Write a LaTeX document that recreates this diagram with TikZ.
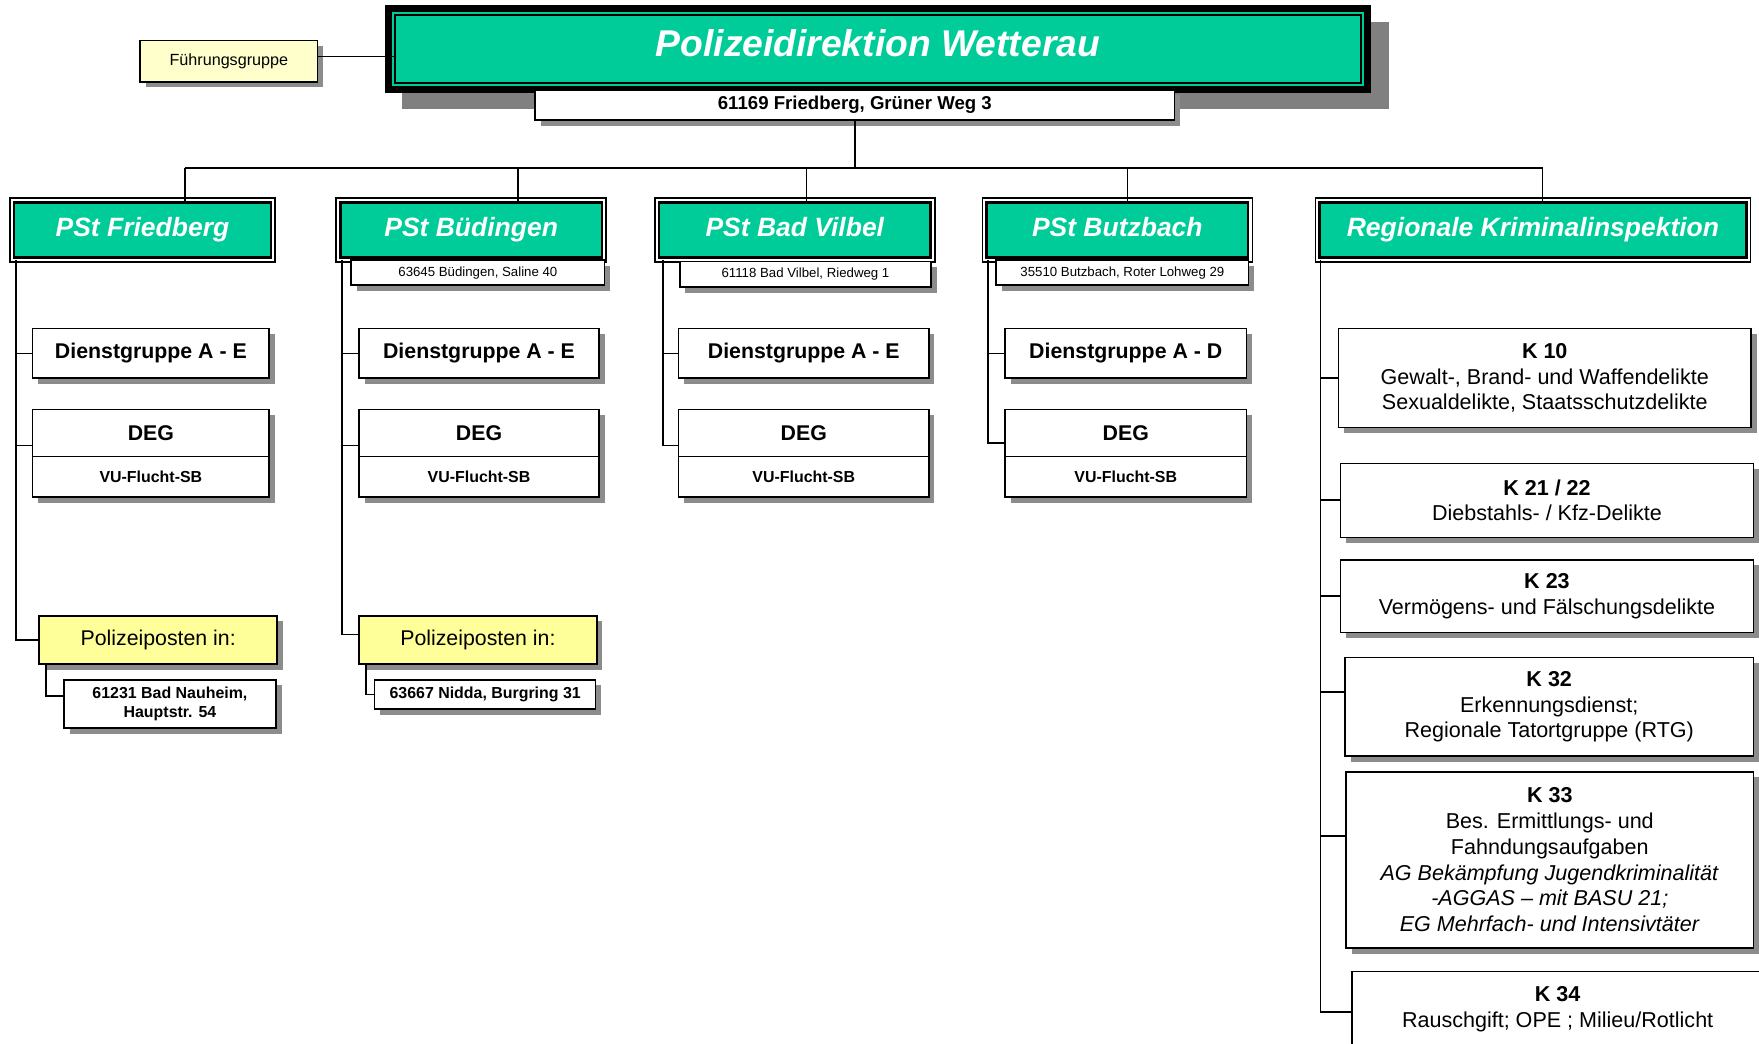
\documentclass[tikz,border=0pt]{standalone}
\usepackage{fontspec}
\setmainfont{Liberation Sans}
\usetikzlibrary{shadows}
\definecolor{tealbox}{HTML}{00CC99}
\definecolor{paleyellow}{HTML}{FFFFCC}
\definecolor{postyellow}{HTML}{FFFF99}
\definecolor{shadowgray}{HTML}{8C8C8C}
\definecolor{darkshadow}{HTML}{808080}
\tikzset{
  bx/.style n args={4}{at={({(#1+#3)/2},{(#2+#4)/2})},
    minimum width={(#3-#1)*0.5pt}, minimum height={(#4-#2)*0.5pt}},
  conn/.style={draw=black, line width=0.75pt},
  sbox/.style={draw=black, line width=0.7pt, fill=white, inner sep=0pt, align=center,
    drop shadow={shadow xshift=2.5pt, shadow yshift=-2.5pt, fill=shadowgray, opacity=1}},
  boldbig/.style={font=\fontsize{9.5}{11.5}\selectfont\bfseries},
  boldsmall/.style={font=\fontsize{7.1}{8.5}\selectfont\bfseries},
  tiny/.style={font=\fontsize{5.9}{7}\selectfont},
  kbox/.style={sbox, font=\fontsize{9.6}{11.5}\selectfont},
  pstbox/.style={preaction={draw=black, line width=4.4pt},
    preaction={draw=white, line width=3pt},
    draw=black, line width=1.2pt, fill=tealbox, inner sep=0pt, text=white,
    text height=8.5pt, text depth=3pt,
    font=\fontsize{11.8}{14}\selectfont\bfseries\itshape},
  mainbox/.style={preaction={draw=black, line width=8.9pt},
    preaction={draw=tealbox, line width=2.7pt},
    draw=black, line width=0.9pt, fill=tealbox, inner sep=0pt, text=white,
    text height=12pt, text depth=5pt,
    font=\fontsize{16.6}{20}\selectfont\bfseries\itshape},
  postbox/.style={sbox, fill=postyellow, font=\fontsize{9.5}{11.5}\selectfont},
}
\begin{document}
\begin{tikzpicture}[x=0.5pt,y=-0.5pt]
\useasboundingbox (0,0) rectangle (1568,930);
\clip (0,0) rectangle (1568,930);
\fill[white] (0,0) rectangle (1568,930);

% top
\fill[darkshadow] (358,20) rectangle (1238,97);
\node[mainbox, bx={352}{13.5}{1213}{74}] (main) {Polizeidirektion Wetterau};
\node[sbox, font=\fontsize{8.3}{10}\selectfont\bfseries, bx={477}{80}{1047}{107}] (maddr) {61169 Friedberg, Grüner Weg 3};
\node[sbox, fill=paleyellow, font=\fontsize{7.2}{9}\selectfont, bx={125}{36}{283}{73}] (fg) {Führungsgruppe};

% PSt boxes
\node[pstbox, bx={12.4}{180.4}{241.6}{229.6}] (fb) {PSt Friedberg};
\node[pstbox, bx={303.4}{180.4}{536.6}{229.6}] (bd) {PSt Büdingen};
\node[pstbox, bx={587.4}{180.4}{829.6}{229.6}] (bv) {PSt Bad Vilbel};
\node[pstbox, bx={879.4}{180.4}{1112.6}{229.6}] (bz) {PSt Butzbach};
\node[pstbox, bx={1176.4}{180.4}{1556.6}{229.6}] (rki) {Regionale Kriminalinspektion};

\node[sbox, tiny, bx={313}{232}{539}{254}] (bdaddr) {63645 Büdingen, Saline 40};
\node[sbox, tiny, bx={606}{233}{830}{256}] (bvaddr) {61118 Bad Vilbel, Riedweg 1};
\node[sbox, tiny, bx={888}{232}{1113}{254}] (bzaddr) {35510 Butzbach, Roter Lohweg 29};

% Dienstgruppen
\node[sbox, boldbig, bx={29}{293}{240}{337}] (fdg) {Dienstgruppe A - E};
\node[sbox, boldbig, bx={320}{293}{534}{337}] (bddg) {Dienstgruppe A - E};
\node[sbox, boldbig, bx={605}{293}{828}{337}] (bvdg) {Dienstgruppe A - E};
\node[sbox, boldbig, bx={896}{293}{1111}{337}] (bzdg) {Dienstgruppe A - D};

% DEG
\node[sbox, boldbig, bx={29}{365}{240}{407}] (fdeg) {DEG};
\node[sbox, boldsmall, bx={29}{407}{240}{443}] (fvu) {VU-Flucht-SB};
\node[sbox, boldbig, bx={320}{365}{534}{407}] (bddeg) {DEG};
\node[sbox, boldsmall, bx={320}{407}{534}{443}] (bdvu) {VU-Flucht-SB};
\node[sbox, boldbig, bx={605}{365}{828}{407}] (bvdeg) {DEG};
\node[sbox, boldsmall, bx={605}{407}{828}{443}] (bvvu) {VU-Flucht-SB};
\node[sbox, boldbig, bx={896}{365}{1111}{407}] (bzdeg) {DEG};
\node[sbox, boldsmall, bx={896}{407}{1111}{443}] (bzvu) {VU-Flucht-SB};

% Polizeiposten
\node[postbox, bx={35}{549}{247}{592}] (fpp) {Polizeiposten in:};
\node[postbox, bx={320}{549}{532}{592}] (bdpp) {Polizeiposten in:};
\node[sbox, boldsmall, bx={57}{606}{246}{649}] (fpa) {61231 Bad Nauheim,\\Hauptstr. 54};
\node[sbox, boldsmall, bx={334}{606}{531}{632}] (bdpa) {63667 Nidda, Burgring 31};

% K boxes
\node[kbox, bx={1193}{293}{1561}{381}] (k10) {\textbf{K 10}\\Gewalt-, Brand- und Waffendelikte\\Sexualdelikte, Staatsschutzdelikte};
\node[kbox, bx={1195}{413}{1563}{479}] (k21) {\textbf{K 21 / 22}\\Diebstahls- / Kfz-Delikte};
\node[kbox, bx={1195}{499}{1563}{564}] (k23) {\textbf{K 23}\\Vermögens- und Fälschungsdelikte};
\node[kbox, bx={1199}{586}{1563}{674}] (k32) {\textbf{K 32}\\Erkennungsdienst;\\Regionale Tatortgruppe (RTG)};
\node[kbox, bx={1200}{688}{1563}{845}] (k33) {\textbf{K 33}\\Bes. Ermittlungs- und\\Fahndungsaufgaben\\\textit{AG Bekämpfung Jugendkriminalität}\\\textit{-AGGAS – mit BASU 21;}\\\textit{EG Mehrfach- und Intensivtäter}};
\node[kbox, bx={1205}{866}{1572}{933}] (k34) {\textbf{K 34}\\Rauschgift; OPE ; Milieu/Rotlicht};

% connectors top
\draw[conn] ([yshift=2pt]fg.east) -- ([yshift=2pt]fg.east -| main.west);
\coordinate (bus) at (762,150);
\coordinate (dfb) at (165,150);
\coordinate (dbd) at (462,150);
\coordinate (dbv) at (719,150);
\coordinate (dbz) at (1005,150);
\coordinate (drk) at (1375,150);
\draw[conn] (maddr.south) -- (bus);
\draw[conn] (dfb) -- (drk);
\draw[conn] (dfb) -- (dfb |- fb.north);
\draw[conn] (dbd) -- (dbd |- bd.north);
\draw[conn] (dbv) -- (dbv |- bv.north);
\draw[conn] (dbz) -- (dbz |- bz.north);
\draw[conn] (drk) -- (drk |- rki.north);

% Friedberg
\coordinate (vfb) at (14,232);
\draw[conn] (vfb) |- (fdg.west);
\draw[conn] (vfb) |- ([yshift=-5.5pt]fdeg.west);
\draw[conn] (vfb) |- (fpp.west);
\coordinate (vfpp) at (41,592);
\draw[conn] (vfpp) |- ([yshift=3.5pt]fpa.west);

% Buedingen
\coordinate (vbd) at (305,232);
\draw[conn] (vbd) |- (bddg.west);
\draw[conn] (vbd) |- ([yshift=-5.5pt]bddeg.west);
\draw[conn] (vbd) |- ([yshift=2.5pt]bdpp.west);
\coordinate (vbdpp) at (326,592);
\draw[conn] (vbdpp) |- (bdpa.west);

% Bad Vilbel
\coordinate (vbv) at (591,232);
\draw[conn] (vbv) |- (bvdg.west);
\draw[conn] (vbv) |- ([yshift=-5.5pt]bvdeg.west);

% Butzbach
\coordinate (vbz) at (881,232);
\draw[conn] (vbz) |- (bzdg.west);
\draw[conn] (vbz) |- ([yshift=-4.5pt]bzdeg.west);

% RKI
\coordinate (vrk) at (1177,232);
\draw[conn] (vrk) |- (k10.west);
\draw[conn] (vrk) |- (k21.west);
\draw[conn] (vrk) |- (k23.west);
\draw[conn] (vrk) |- ([yshift=6.5pt]k32.west);
\draw[conn] (vrk) |- ([yshift=10.75pt]k33.west);
\draw[conn] (vrk) |- ([yshift=-1.25pt]k34.west);
\end{tikzpicture}
\end{document}
